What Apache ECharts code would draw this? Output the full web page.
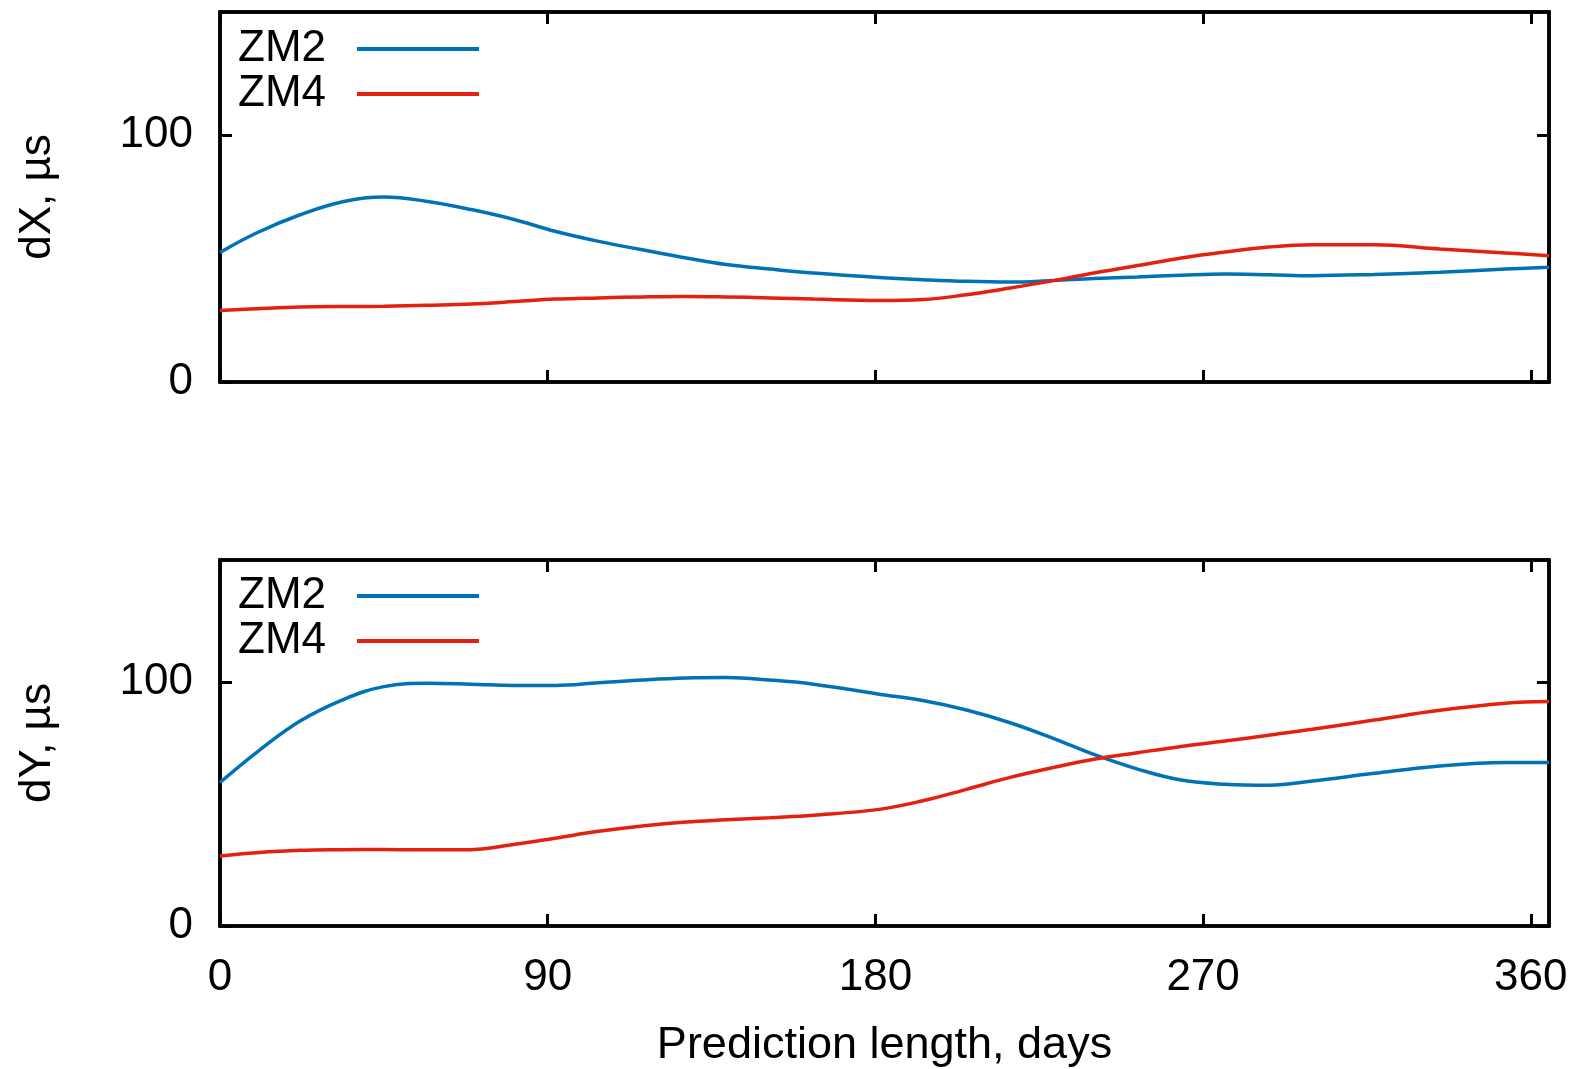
<!DOCTYPE html>
<html>
<head>
<meta charset="utf-8">
<script src="https://cdn.jsdelivr.net/npm/echarts@6/dist/echarts.min.js"></script>
<style>
  html, body { margin: 0; padding: 0; background: #fff; }
  #chart { width: 1578px; height: 1069px; }
</style>
</head>
<body>
<div id="chart"></div>
<script>
// Prediction length, days (sample positions)
const days = [0, 10, 22, 34, 45, 57, 69, 81, 92, 104, 116, 128, 139, 151, 163, 181, 193, 205, 217, 229, 240, 252, 264, 276, 288, 300, 317, 335, 353, 365];

// dX, µs
const dX_ZM2 = [52.5, 60.4, 67.8, 73.2, 75.0, 73.2, 69.9, 65.8, 61.1, 57.0, 53.6, 50.3, 47.6, 45.8, 44.2, 42.4, 41.5, 40.8, 40.5, 41.2, 42.0, 42.6, 43.3, 43.8, 43.5, 43.1, 43.6, 44.5, 45.8, 46.5];
const dX_ZM4 = [29.0, 29.7, 30.4, 30.6, 30.7, 31.1, 31.6, 32.6, 33.6, 34.1, 34.5, 34.7, 34.5, 34.1, 33.6, 33.0, 33.4, 35.4, 38.1, 41.1, 44.2, 47.2, 50.3, 52.7, 54.7, 55.6, 55.6, 53.9, 52.3, 51.2];

// dY, µs
const dY_ZM2 = [58.8, 71.1, 84.0, 92.9, 98.1, 99.5, 99.1, 98.6, 98.6, 99.7, 100.8, 101.6, 101.8, 100.8, 99.1, 95.0, 92.4, 88.5, 83.3, 76.8, 70.3, 64.3, 59.8, 58.1, 57.7, 59.4, 62.6, 65.6, 67.0, 67.0];
const dY_ZM4 = [28.7, 30.0, 31.0, 31.3, 31.4, 31.2, 31.3, 33.5, 36.0, 38.8, 41.0, 42.6, 43.5, 44.4, 45.4, 47.8, 51.3, 56.0, 60.9, 65.0, 68.3, 71.0, 73.6, 75.8, 78.2, 80.6, 84.4, 88.4, 91.3, 92.0];

const xTicks = [0, 90, 180, 270, 360];
const yTicks = [0, 100];
const seriesNames = ['ZM2', 'ZM4'];
const colors = ['#0072b8', '#e4200f'];

const FONT = 'Liberation Sans, Arial, Helvetica, sans-serif';
const FS = 44;

function pairs(xs, ys) { return xs.map((x, i) => [x, ys[i]]); }

function xAxisDef(gridIndex, position, showLabels) {
  return {
    type: 'value', gridIndex, position,
    min: 0, max: 365, interval: 90,
    axisLine: { show: true, onZero: false, lineStyle: { color: '#000', width: 3.5 } },
    axisTick: { show: true, inside: true, length: 12, lineStyle: { color: '#000', width: 3 }, customValues: xTicks },
    axisLabel: { show: showLabels, customValues: xTicks, color: '#000', fontFamily: FONT, fontSize: FS, margin: 30 },
    splitLine: { show: false }
  };
}
function yAxisDef(gridIndex, position, showLabels, name) {
  return {
    type: 'value', gridIndex, position,
    min: 0, max: 150, interval: 50,
    name: name || '',
    nameLocation: 'middle', nameGap: 160, nameRotate: 90,
    nameTextStyle: { color: '#000', fontFamily: FONT, fontSize: FS },
    axisLine: { show: true, onZero: false, lineStyle: { color: '#000', width: 3.5 } },
    axisTick: { show: true, inside: true, length: 12, lineStyle: { color: '#000', width: 3 }, customValues: yTicks },
    axisLabel: { show: showLabels, customValues: yTicks, color: '#000', fontFamily: FONT, fontSize: FS, margin: 27 },
    splitLine: { show: false }
  };
}

const bottomX = xAxisDef(1, 'bottom', true);
bottomX.name = 'Prediction length, days';
bottomX.nameLocation = 'middle';
bottomX.nameGap = 97;
bottomX.nameTextStyle = { color: '#000', fontFamily: FONT, fontSize: 45 };

function legendDef(top) {
  return {
    data: seriesNames,
    orient: 'vertical',
    left: 238, top: top,
    padding: 0,
    align: 'right',
    icon: 'rect',
    itemWidth: 122, itemHeight: 4,
    itemGap: 1,
    textStyle: { color: '#000', fontFamily: FONT, fontSize: FS, lineHeight: 44, padding: [0, 26, 0, 0] }
  };
}

function lineSeries(name, xi, yi, data, color) {
  return {
    name, type: 'line', xAxisIndex: xi, yAxisIndex: yi,
    data, smooth: 0.4, symbol: 'none',
    lineStyle: { color, width: 3.5 }, itemStyle: { color },
    animation: false
  };
}

const option = {
  backgroundColor: '#fff',
  animation: false,
  grid: [
    { left: 220, right: 29, top: 12, height: 370, show: true, borderColor: '#000', borderWidth: 3.5, containLabel: false },
    { left: 220, right: 29, top: 560, height: 369, show: true, borderColor: '#000', borderWidth: 3.5, containLabel: false }
  ],
  legend: [legendDef(27), legendDef(574)],
  xAxis: [
    xAxisDef(0, 'bottom', false),
    xAxisDef(0, 'top', false),
    bottomX,
    xAxisDef(1, 'top', false)
  ],
  yAxis: [
    yAxisDef(0, 'left', true, 'dX, µs'),
    yAxisDef(0, 'right', false),
    yAxisDef(1, 'left', true, 'dY, µs'),
    yAxisDef(1, 'right', false)
  ],
  series: [
    lineSeries('ZM2', 0, 0, pairs(days, dX_ZM2), colors[0]),
    lineSeries('ZM4', 0, 0, pairs(days, dX_ZM4), colors[1]),
    lineSeries('ZM2', 2, 2, pairs(days, dY_ZM2), colors[0]),
    lineSeries('ZM4', 2, 2, pairs(days, dY_ZM4), colors[1])
  ]
};

const chart = echarts.init(document.getElementById('chart'), null, { renderer: 'canvas' });
chart.setOption(option);
</script>
</body>
</html>
